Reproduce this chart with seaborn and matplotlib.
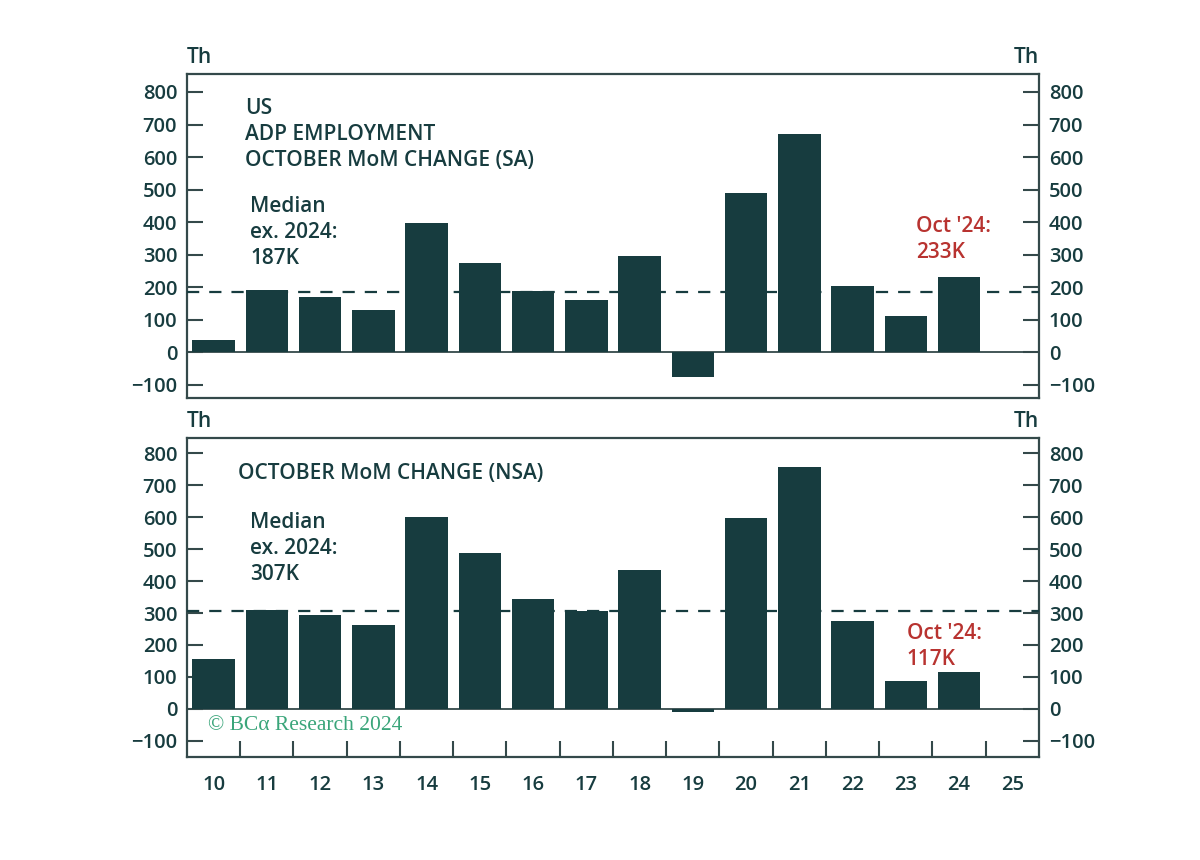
import numpy as np
import pandas as pd
import matplotlib
matplotlib.use("Agg")
import matplotlib.pyplot as plt
from matplotlib.ticker import FixedLocator
import seaborn as sns

# Data (thousands), October MoM change, years 2010-2024
years = [10, 11, 12, 13, 14, 15, 16, 17, 18, 19, 20, 21, 22, 23, 24]
sa_change = [38, 191, 169, 129, 398, 276, 190, 160, 295, -76, 490, 672, 203, 113, 233]
nsa_change = [156, 310, 294, 262, 601, 487, 344, 305, 434, -9, 597, 756, 275, 87, 117]
sa_median = 187
nsa_median = 307
xtick_labels = [str(y) for y in range(10, 26)]

DARK = "#173c3f"
SPINE = "#34494a"
RED = "#b83330"
GREEN = "#3aa57a"

sns.set_style("white")
plt.rcParams["font.family"] = ["Open Sans", "DejaVu Sans"]
W = "semibold"

fig = plt.figure(figsize=(12, 8.6), dpi=100)
ax1 = fig.add_axes([0.1558, 0.5372, 0.71, 0.3767])
ax2 = fig.add_axes([0.1558, 0.1198, 0.71, 0.3709])


def style_panel(ax, ylim):
    ax.set_xlim(9.5, 25.5)
    ax.set_ylim(*ylim)
    ax.yaxis.set_major_locator(FixedLocator(range(-100, 900, 100)))
    ax.tick_params(axis="y", which="major", direction="in", length=11.5, width=1.5,
                   color=SPINE, left=True, right=True, labelleft=True, labelright=True,
                   labelsize=14.5, labelcolor=DARK, pad=7)
    for lab in ax.get_yticklabels():
        lab.set_fontweight(W)
    for s in ax.spines.values():
        s.set_visible(True)
        s.set_color(SPINE)
        s.set_linewidth(1.6)
    ax.set_xlabel("")
    ax.set_ylabel("")
    ax.axhline(0, color=SPINE, lw=1.3, zorder=1)
    ax.text(0.0, 1.02, "Th", transform=ax.transAxes, ha="left", va="bottom",
            fontsize=15, fontweight=W, color=DARK)
    ax.text(1.0, 1.02, "Th", transform=ax.transAxes, ha="right", va="bottom",
            fontsize=15, fontweight=W, color=DARK)


df_sa = pd.DataFrame({"year": years, "value": sa_change})
df_nsa = pd.DataFrame({"year": years, "value": nsa_change})

sns.barplot(data=df_sa, x="year", y="value", native_scale=True, color=DARK,
            saturation=1, width=0.8, linewidth=0, ax=ax1, zorder=2)
sns.barplot(data=df_nsa, x="year", y="value", native_scale=True, color=DARK,
            saturation=1, width=0.8, linewidth=0, ax=ax2, zorder=2)

style_panel(ax1, (-140, 855))
style_panel(ax2, (-150, 847))

ax1.axhline(sa_median, color=DARK, lw=1.6, ls=(0, (5.5, 4.5)), zorder=3)
ax2.axhline(nsa_median, color=DARK, lw=1.6, ls=(0, (5.5, 4.5)), zorder=3)

# x axis: top panel without ticks
ax1.xaxis.set_major_locator(FixedLocator([]))
ax1.tick_params(axis="x", which="both", bottom=False, labelbottom=False)

ax2.xaxis.set_major_locator(FixedLocator(range(10, 26)))
ax2.set_xticklabels(xtick_labels)
ax2.xaxis.set_minor_locator(FixedLocator(np.arange(10.5, 25, 1)))
ax2.tick_params(axis="x", which="major", length=0, pad=13, labelsize=14.5, labelcolor=DARK)
ax2.tick_params(axis="x", which="minor", direction="in", length=11.5, width=1.5,
                color=SPINE, bottom=True)
for lab in ax2.get_xticklabels():
    lab.set_fontweight(W)

# annotations
txt = dict(fontsize=15, color=DARK, fontweight=W, va="center", ha="left",
           linespacing=1.3)
red = dict(txt, color=RED)
ax1.text(0.068, 0.813, "US\nADP EMPLOYMENT\nOCTOBER MoM CHANGE (SA)",
         transform=ax1.transAxes, **txt)
ax1.text(0.074, 0.511, "Median\nex. 2024:\n187K", transform=ax1.transAxes, **txt)
ax1.text(0.856, 0.49, "Oct '24:\n233K", transform=ax1.transAxes, **red)

ax2.text(0.06, 0.889, "OCTOBER MoM CHANGE (NSA)", transform=ax2.transAxes, **txt)
ax2.text(0.074, 0.654, "Median\nex. 2024:\n307K", transform=ax2.transAxes, **txt)
ax2.text(0.845, 0.347, "Oct '24:\n117K", transform=ax2.transAxes, **red)
ax2.text(0.025, 0.10, "© BCα Research 2024", transform=ax2.transAxes,
         fontsize=15.5, color=GREEN, family=["Liberation Serif", "DejaVu Serif"],
         va="center", ha="left")

fig.savefig("out.png", dpi=100, facecolor="white")
